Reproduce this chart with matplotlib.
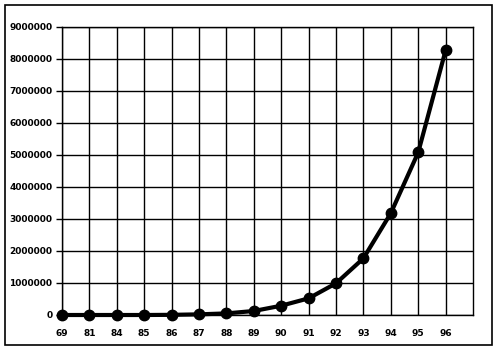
import matplotlib
matplotlib.use("Agg")
import matplotlib.pyplot as plt
from matplotlib.patches import Rectangle

years = ["69", "81", "84", "85", "86", "87", "88", "89", "90", "91", "92", "93", "94", "95", "96"]
values = [0, 0, 0, 0, 5000, 20000, 50000, 125000, 290000, 520000,
          990000, 1770000, 3180000, 5080000, 8270000]
y_ticks = list(range(0, 9000001, 1000000))

plt.rcParams["font.family"] = ["DejaVu Sans"]

fig = plt.figure(figsize=(4.97, 3.51), dpi=100)
fig.patch.set_facecolor("white")
fig.patches.append(Rectangle((5 / 497, 6 / 351), 487 / 497, 340 / 351, transform=fig.transFigure,
                             fill=False, edgecolor="black", linewidth=1.2))

ax = fig.add_axes([62 / 497, 36 / 351, 411 / 497, 288 / 351])
x = list(range(len(years)))
ax.plot(x, values, color="black", linewidth=3, marker="o", markersize=7.5,
        markerfacecolor="black", markeredgecolor="black", clip_on=False, zorder=3)

ax.set_xlim(0, len(years))
ax.set_ylim(0, 9000000)
ax.set_yticks(y_ticks)
ax.set_yticklabels([str(v) for v in y_ticks], fontsize=6.5, fontweight="bold")
ax.set_xticks(x)
ax.set_xticklabels(years, fontsize=6.5, fontweight="bold")
ax.grid(True, which="major", color="black", linewidth=1)
ax.tick_params(axis="x", length=0, pad=10)
ax.tick_params(axis="y", length=4, width=1, pad=3)
for spine in ax.spines.values():
    spine.set_color("black")
    spine.set_linewidth(1)

fig.savefig("out.png", dpi=100)
